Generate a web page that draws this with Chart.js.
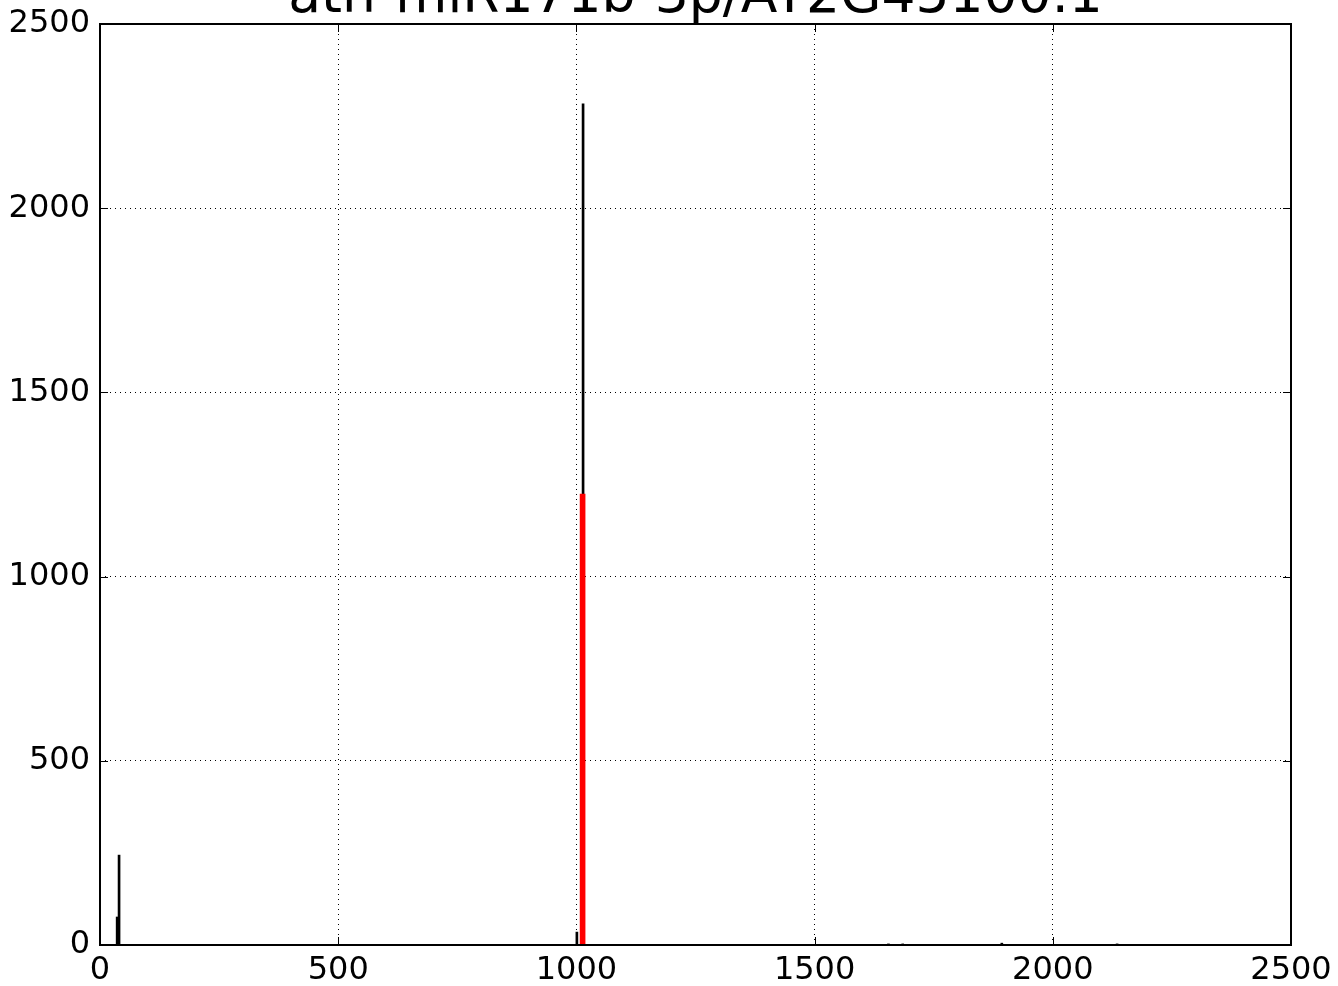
<!DOCTYPE html>
<html>
<head>
<meta charset="utf-8">
<script src="https://cdn.jsdelivr.net/npm/chart.js@4"></script>
<style>
  html, body { margin: 0; padding: 0; background: #fff; }
  #wrap { width: 1338px; height: 986px; }
</style>
</head>
<body>
<div id="wrap"><canvas id="chart" width="1338" height="986"></canvas></div>
<script>
const titleText = "ath-miR171b-3p/AT2G45100.1";

// read positions (x) and counts (y)
const readPositions = [36, 40, 1001, 1014, 1655, 1685, 1893, 2135];
const readCounts = [76, 244, 35, 2283, 3, 3, 5, 3];

// target site highlighted in red
const sitePositions = [1013];
const siteCounts = [1224];

const xTicks = [0, 500, 1000, 1500, 2000, 2500];
const yTicks = [0, 500, 1000, 1500, 2000, 2500];

function toPoints(xs, ys) {
  return xs.map((x, i) => ({ x: x, y: ys[i] }));
}

// title sits partly above the canvas, like the original
const titlePlugin = {
  id: "cutTitle",
  afterDraw(chart) {
    const ctx = chart.ctx;
    const area = chart.chartArea;
    ctx.save();
    ctx.fillStyle = "#000";
    ctx.font = "53.5px 'DejaVu Sans'";
    ctx.textAlign = "center";
    ctx.textBaseline = "alphabetic";
    ctx.fillText(titleText, (area.left + area.right) / 2, 12);
    ctx.restore();
  }
};

// solid frame plus inward ticks on all four sides
const framePlugin = {
  id: "frame",
  afterDraw(chart) {
    const ctx = chart.ctx;
    const a = chart.chartArea;
    const xs = chart.scales.x;
    const ys = chart.scales.y;
    const len = 8;
    ctx.save();
    ctx.strokeStyle = "#000";
    ctx.lineWidth = 1;
    ctx.beginPath();
    xTicks.forEach(v => {
      const px = Math.round(xs.getPixelForValue(v)) + 0.5;
      ctx.moveTo(px, a.bottom); ctx.lineTo(px, a.bottom - len);
      ctx.moveTo(px, a.top); ctx.lineTo(px, a.top + len);
    });
    yTicks.forEach(v => {
      const py = Math.round(ys.getPixelForValue(v)) + 0.5;
      ctx.moveTo(a.left, py); ctx.lineTo(a.left + len, py);
      ctx.moveTo(a.right, py); ctx.lineTo(a.right - len, py);
    });
    ctx.stroke();
    ctx.lineWidth = 2;
    ctx.strokeRect(a.left, a.top, a.right - a.left, a.bottom - a.top);
    ctx.restore();
  }
};

const tickFont = { family: "'DejaVu Sans'", size: 32 };

new Chart(document.getElementById("chart"), {
  type: "bar",
  data: {
    datasets: [
      {
        label: "site",
        data: toPoints(sitePositions, siteCounts),
        backgroundColor: "#ff0000",
        barThickness: 5
      },
      {
        label: "reads",
        data: toPoints(readPositions, readCounts),
        backgroundColor: "#000000",
        barThickness: 2
      }
    ]
  },
  options: {
    responsive: false,
    animation: false,
    devicePixelRatio: 1,
    grouped: false,
    layout: { padding: { top: 24, right: 47, left: 0, bottom: 0 } },
    plugins: {
      legend: { display: false },
      tooltip: { enabled: false },
      title: { display: false }
    },
    scales: {
      x: {
        type: "linear",
        min: 0,
        max: 2500,
        offset: false,
        afterBuildTicks(scale) { scale.ticks = xTicks.map(v => ({ value: v })); },
        afterFit(scale) { scale.height = 41; scale.paddingLeft = 0; scale.paddingRight = 0; },
        ticks: { color: "#000", font: tickFont, padding: 6, maxRotation: 0, callback: v => String(v) },
        grid: { color: "#000", lineWidth: 1, drawTicks: false, offset: false },
        border: { display: false, dash: [1, 4] }
      },
      y: {
        min: 0,
        max: 2500,
        afterBuildTicks(scale) { scale.ticks = yTicks.map(v => ({ value: v })); },
        afterFit(scale) { scale.width = 100; scale.paddingTop = 0; scale.paddingBottom = 0; },
        ticks: { color: "#000", font: tickFont, padding: 10, callback: v => String(v) },
        grid: { color: "#000", lineWidth: 1, drawTicks: false },
        border: { display: false, dash: [1, 4] }
      }
    }
  },
  plugins: [titlePlugin, framePlugin]
});
</script>
</body>
</html>
